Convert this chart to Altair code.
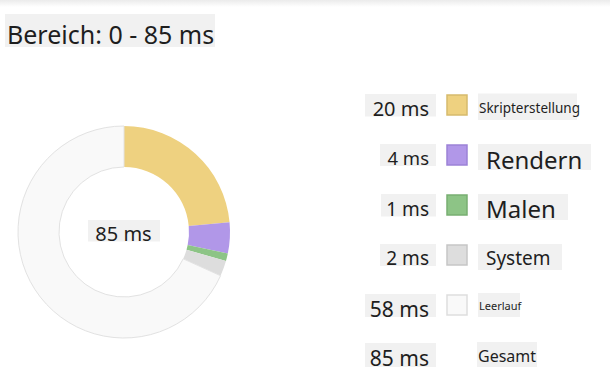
import altair as alt
import pandas as pd

# Zeitaufteilung eines Aufzeichnungsbereichs (Leistungsübersicht)
categories = ["Skripterstellung", "Rendern", "Malen", "System", "Leerlauf"]
durations_ms = [20, 4, 1, 2, 58]
total_label = "Gesamt"
range_start_ms = 0
range_end_ms = 85

fill_colors = ["#EED180", "#B197E8", "#8DC486", "#DDDDDD", "#F9F9F9"]
edge_colors = ["#D6BA6C", "#9C82D6", "#78AE71", "#C6C6C6", "#DEDEDE"]

FONT = "Noto Sans"
INK = "#1E1E1E"
BOX = "#F1F1F1"

total_ms = sum(durations_ms)

legend_df = pd.DataFrame({
    "eintrag": categories + [total_label],
    "wert": [f"{v} ms" for v in durations_ms] + [f"{total_ms} ms"],
    "zeile": list(range(len(categories) + 1)),
})
swatch_df = legend_df[legend_df["eintrag"] != total_label]
donut_df = pd.DataFrame({
    "kategorie": categories,
    "ms": durations_ms,
    "ordnung": list(range(len(categories))),
})

row_y = alt.Y("zeile:Q", scale=alt.Scale(domain=[0, 5], range=[105, 355]), axis=None)

# per-row typography of the legend: (font size, baseline shift, box left, box right, box top shift, box height)
value_style = {
    "Skripterstellung": (20, 10.5, 365, 436, -11, 22.5),
    "Rendern": (18.5, 10.0, 380, 436, -11, 22.0),
    "Malen": (19, 10.5, 381, 436, -11, 22.5),
    "System": (19, 10.0, 380, 436, -11, 22.0),
    "Leerlauf": (21, 11.5, 365, 436, -11, 23.0),
    "Gesamt": (21, 11.0, 365, 436, -12, 24.0),
}
label_style = {
    "Skripterstellung": (13.5, 8.3, 478, 577, -11.5, 26.5),
    "Rendern": (24, 14.0, 478, 591, -11, 26.0),
    "Malen": (24, 13.3, 478, 568, -11, 26.0),
    "System": (19, 10.0, 478, 562, -11, 26.0),
    "Leerlauf": (11, 5.0, 478, 520, -12, 24.0),
    "Gesamt": (16, 6.7, 477, 537, -13, 25.0),
}
label_indent = {"Rendern": 7, "Malen": 7, "System": 7}

layers = []

# soft shade along the top edge
layers.append(
    alt.Chart(pd.DataFrame({"k": [0]})).mark_rect(
        fill=alt.LinearGradient(
            gradient="linear",
            stops=[alt.GradientStop(color="#EBEBEB", offset=0),
                   alt.GradientStop(color="#FFFFFF", offset=1)],
            x1=0, x2=0, y1=0, y2=1,
        )
    ).encode(x=alt.value(0), x2=alt.value(610), y=alt.value(0), y2=alt.value(7))
)

# title
title_df = pd.DataFrame({"titel": [f"Bereich: {range_start_ms} - {range_end_ms} ms"]})
layers.append(
    alt.Chart(title_df).mark_rect(color=BOX).encode(
        x=alt.value(5), x2=alt.value(215), y=alt.value(14), y2=alt.value(47)
    )
)
layers.append(
    alt.Chart(title_df).mark_text(
        font=FONT, fontSize=25, align="left", baseline="alphabetic", color=INK
    ).encode(x=alt.value(7), y=alt.value(44), text="titel:N")
)

# donut ring
layers.append(
    alt.Chart(donut_df).mark_arc(innerRadius=65, outerRadius=106, strokeWidth=1).encode(
        theta=alt.Theta("ms:Q", stack=True),
        order=alt.Order("ordnung:Q"),
        color=alt.Color("kategorie:N", scale=alt.Scale(domain=categories, range=fill_colors), legend=None),
        stroke=alt.condition(alt.datum.kategorie == "Leerlauf", alt.value("#E2E2E2"), alt.value("transparent")),
        x=alt.value(124),
        y=alt.value(232),
    )
)

# total in the centre of the ring
centre_df = pd.DataFrame({"summe": [f"{total_ms} ms"]})
layers.append(
    alt.Chart(centre_df).mark_rect(color=BOX).encode(
        x=alt.value(88), x2=alt.value(160), y=alt.value(220), y2=alt.value(241.5)
    )
)
layers.append(
    alt.Chart(centre_df).mark_text(
        font=FONT, fontSize=20, align="center", baseline="alphabetic", color=INK
    ).encode(x=alt.value(123.5), y=alt.value(240.5), text="summe:N")
)

# legend rows
for name in legend_df["eintrag"]:
    row = alt.Chart(legend_df).transform_filter(alt.datum.eintrag == name)

    fs, dy, left, right, top, h = value_style[name]
    layers.append(
        row.mark_rect(color=BOX, height=h, yOffset=top + h / 2).encode(
            x=alt.value(left), x2=alt.value(right), y=row_y
        )
    )
    layers.append(
        row.mark_text(
            font=FONT, fontSize=fs, align="right", baseline="alphabetic", dy=dy, color=INK
        ).encode(x=alt.value(429), y=row_y, text="wert:N")
    )

    fs, dy, left, right, top, h = label_style[name]
    layers.append(
        row.mark_rect(color=BOX, height=h, yOffset=top + h / 2).encode(
            x=alt.value(left), x2=alt.value(right), y=row_y
        )
    )
    layers.append(
        row.mark_text(
            font=FONT, fontSize=fs, align="left", baseline="alphabetic", dy=dy, color=INK
        ).encode(x=alt.value(left + 1 + label_indent.get(name, 0)), y=row_y, text="eintrag:N")
    )

# colour swatches
layers.append(
    alt.Chart(swatch_df).mark_square(size=400, strokeWidth=1.5, opacity=1).encode(
        x=alt.value(457),
        y=row_y,
        color=alt.Color("eintrag:N", scale=alt.Scale(domain=categories, range=fill_colors), legend=None),
        stroke=alt.Stroke("eintrag:N", scale=alt.Scale(domain=categories, range=edge_colors), legend=None),
    )
)

chart = alt.layer(*layers).properties(
    width=610, height=378, padding=0, autosize="none", background="white"
).configure_view(stroke=None)

chart.save("out.html", embed_options={"renderer": "svg", "actions": False})
